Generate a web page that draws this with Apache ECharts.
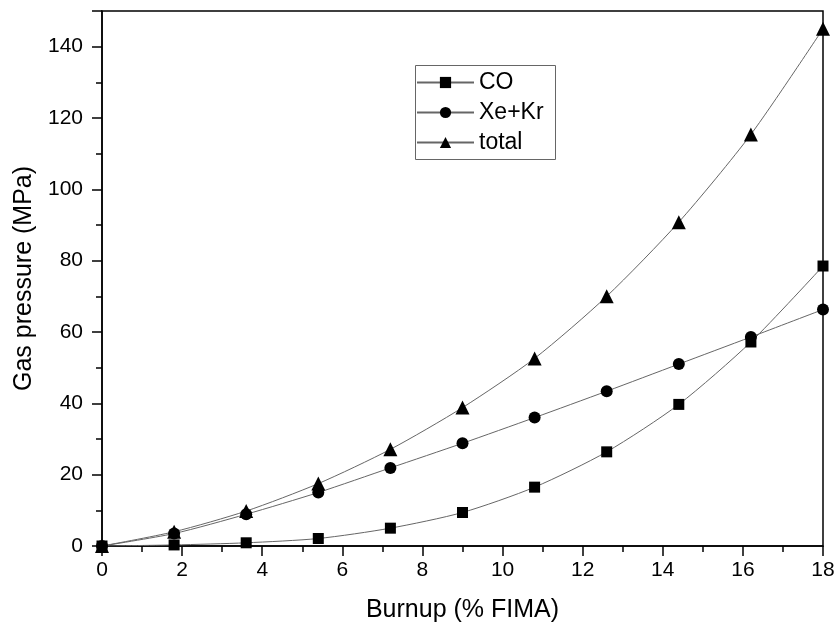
<!DOCTYPE html>
<html>
<head>
<meta charset="utf-8">
<script src="https://cdn.jsdelivr.net/npm/echarts@6/dist/echarts.min.js"></script>
<style>html,body{margin:0;padding:0;background:#fff}#c{width:839px;height:629px}</style>
</head>
<body>
<div id="c"></div>
<script>
const burnup = [0, 1.8, 3.6, 5.4, 7.2, 9, 10.8, 12.6, 14.4, 16.2, 18];
const co = [0, 0.3, 0.9, 2.1, 5.0, 9.4, 16.5, 26.4, 39.7, 57.2, 78.5];
const xekr = [0, 3.5, 8.9, 15.0, 21.9, 28.8, 36.0, 43.4, 51.0, 58.6, 66.3];
const total = [0, 4.0, 9.8, 17.5, 27.1, 38.8, 52.6, 70.0, 90.8, 115.4, 145.0];
const seriesNames = ['CO', 'Xe+Kr', 'total'];

const pair = (ys) => burnup.map((x, i) => [x, ys[i]]);
const font = 'Liberation Sans';
const chart = echarts.init(document.getElementById('c'), null, {renderer: 'canvas'});
const mk = (name, ys, symbol, size) => ({
  name, type: 'line', data: pair(ys), symbol, symbolSize: size,
  showAllSymbol: true, smooth: 0.25,
  lineStyle: {color: '#666', width: 1},
  itemStyle: {color: '#000', borderWidth: 0},
  emphasis: {disabled: true}, animation: false, z: 3
});
chart.setOption({
  animation: false,
  grid: {left: 102, right: 16, top: 11, bottom: 83, show: true, borderColor: '#000', borderWidth: 1.5, backgroundColor: 'transparent'},
  graphic: [{
    type: 'rect', left: 413, top: 63, z: 10, silent: true,
    shape: {width: 140, height: 94},
    style: {fill: 'none', stroke: '#666', lineWidth: 1}
  }],
  legend: {
    left: 413, top: 63, orient: 'vertical',
    data: seriesNames,
    itemWidth: 57, itemHeight: 14, itemGap: 7,
    padding: [8, 5, 3, 3],
    borderWidth: 0,
    textStyle: {fontFamily: font, fontSize: 23, lineHeight: 23, color: '#000'}
  },
  xAxis: {
    type: 'value', min: 0, max: 18, interval: 2,
    name: 'Burnup (% FIMA)', nameLocation: 'middle', nameGap: 52,
    nameTextStyle: {fontFamily: font, fontSize: 25, color: '#000'},
    axisLine: {show: true, onZero: false, lineStyle: {color: '#000', width: 1.5}},
    axisTick: {show: true, inside: false, length: 10, lineStyle: {color: '#000', width: 1.5}},
    minorTick: {show: true, splitNumber: 2, length: 6, lineStyle: {color: '#000', width: 1.5}},
    axisLabel: {fontFamily: font, fontSize: 21, color: '#000', margin: 14},
    splitLine: {show: false}
  },
  yAxis: {
    type: 'value', min: 0, max: 150, interval: 20,
    name: 'Gas pressure (MPa)', nameLocation: 'middle', nameGap: 64, nameRotate: 90,
    nameTextStyle: {fontFamily: font, fontSize: 25, color: '#000'},
    axisLine: {show: true, onZero: false, lineStyle: {color: '#000', width: 1.5}},
    axisTick: {show: true, inside: false, length: 10, lineStyle: {color: '#000', width: 1.5}},
    minorTick: {show: true, splitNumber: 2, length: 6, lineStyle: {color: '#000', width: 1.5}},
    axisLabel: {fontFamily: font, fontSize: 21, color: '#000', margin: 19,
      formatter: v => (v % 20 === 0 ? String(v) : '')},
    splitLine: {show: false}
  },
  series: [
    mk(seriesNames[0], co, 'rect', 11),
    mk(seriesNames[1], xekr, 'circle', 12),
    mk(seriesNames[2], total, 'triangle', 14)
  ]
});
</script>
</body>
</html>
